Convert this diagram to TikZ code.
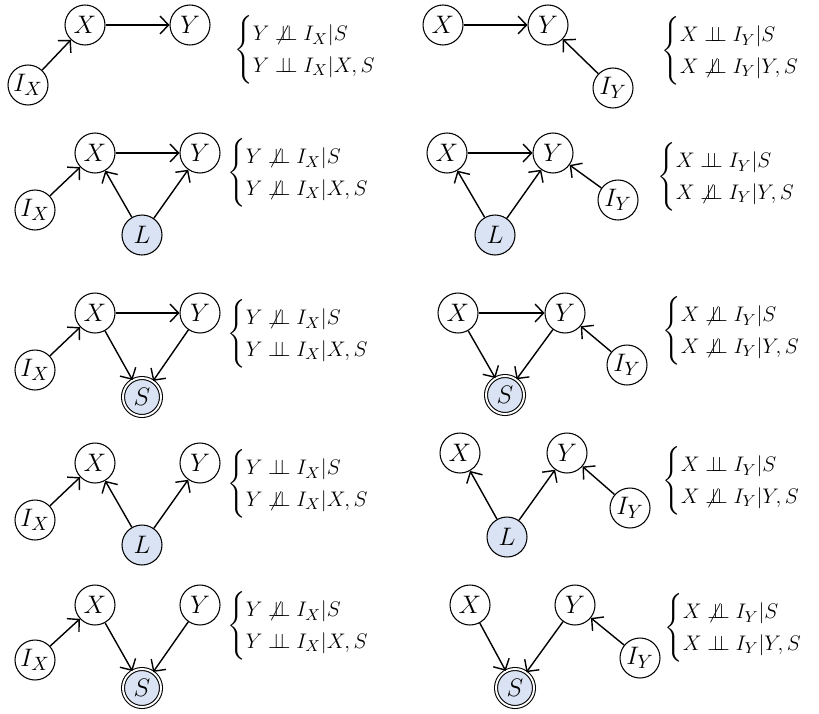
\documentclass[tikz,border=0pt]{standalone}
\usepackage{amsmath}
\usepackage{amssymb}
\usepackage{xcolor}
\usepackage{tikz}
\usetikzlibrary{arrows.meta, positioning}
\definecolor{latblue}{RGB}{218, 227, 243}
\newcommand{\indep}{\mathrel{\perp\!\!\!\perp}}
\newcommand{\nindep}{\mathrel{\not\perp\!\!\!\perp}}

\begin{document}
\begin{tikzpicture}[
        font=\fontsize{13}{15}\selectfont,
        var/.style={circle, draw, semithick, minimum size=0.8cm, inner sep=0pt, font=\fontsize{15}{16}\selectfont},
        lat/.style={var, fill=latblue},
        sel/.style={var, fill=latblue, double, double distance=1.1pt, minimum size=0.76cm},
        rel/.style={anchor=west, inner sep=0pt},
        arr/.style={-{Straight Barb[length=1.7mm, width=3.6mm]}, thick},
    ]
        \useasboundingbox (0,0) rectangle (16.38,-14.26);

        % Row 1: X -> Y only
        \node[var] (xL1) at (1.70,-0.50) {$X$};
        \node[var] (yL1) at (3.80,-0.50) {$Y$};
        \node[var] (iL1) at (0.56,-1.70) {$I_X$};
        \node[rel] (tL1) at (4.68,-1.00) {$\begin{cases} Y \nindep I_X | S \\ Y \indep I_X | X, S \end{cases}$};
        \draw[arr] (iL1) -- (xL1);
        \draw[arr] (xL1) -- (yL1);

        \node[var] (xR1) at (8.86,-0.50) {$X$};
        \node[var] (yR1) at (10.96,-0.50) {$Y$};
        \node[var] (iR1) at (12.26,-1.76) {$I_Y$};
        \node[rel] (tR1) at (13.22,-1.02) {$\begin{cases} X \indep I_Y | S \\ X \nindep I_Y | Y, S \end{cases}$};
        \draw[arr] (xR1) -- (yR1);
        \draw[arr] (iR1) -- (yR1);

        % Row 2: latent confounder L
        \node[var] (xL2) at (1.90,-3.06) {$X$};
        \node[var] (yL2) at (4.00,-3.06) {$Y$};
        \node[var] (iL2) at (0.70,-4.20) {$I_X$};
        \node[lat] (lL2) at (2.84,-4.70) {$L$};
        \node[rel] (tL2) at (4.54,-3.46) {$\begin{cases} Y \nindep I_X | S \\ Y \nindep I_X | X, S \end{cases}$};
        \draw[arr] (iL2) -- (xL2);
        \draw[arr] (xL2) -- (yL2);
        \draw[arr] (lL2) -- (xL2);
        \draw[arr] (lL2) -- (yL2);

        \node[var] (xR2) at (8.94,-3.06) {$X$};
        \node[var] (yR2) at (11.06,-3.06) {$Y$};
        \node[var] (iR2) at (12.36,-4.00) {$I_Y$};
        \node[lat] (lR2) at (9.90,-4.70) {$L$};
        \node[rel] (tR2) at (13.14,-3.54) {$\begin{cases} X \indep I_Y | S \\ X \nindep I_Y | Y, S \end{cases}$};
        \draw[arr] (xR2) -- (yR2);
        \draw[arr] (lR2) -- (xR2);
        \draw[arr] (lR2) -- (yR2);
        \draw[arr] (iR2) -- (yR2);

        % Row 3: selection node S
        \node[var] (xL3) at (1.90,-6.26) {$X$};
        \node[var] (yL3) at (4.00,-6.26) {$Y$};
        \node[var] (iL3) at (0.70,-7.40) {$I_X$};
        \node[sel] (sL3) at (2.84,-7.94) {$S$};
        \node[rel] (tL3) at (4.54,-6.68) {$\begin{cases} Y \nindep I_X | S \\ Y \indep I_X | X, S \end{cases}$};
        \draw[arr] (iL3) -- (xL3);
        \draw[arr] (xL3) -- (yL3);
        \draw[arr] (xL3) -- (sL3);
        \draw[arr] (yL3) -- (sL3);

        \node[var] (xR3) at (9.16,-6.26) {$X$};
        \node[var] (yR3) at (11.30,-6.26) {$Y$};
        \node[var] (iR3) at (12.54,-7.30) {$I_Y$};
        \node[sel] (sR3) at (10.10,-7.90) {$S$};
        \node[rel] (tR3) at (13.24,-6.62) {$\begin{cases} X \nindep I_Y | S \\ X \nindep I_Y | Y, S \end{cases}$};
        \draw[arr] (xR3) -- (yR3);
        \draw[arr] (xR3) -- (sR3);
        \draw[arr] (yR3) -- (sR3);
        \draw[arr] (iR3) -- (yR3);

        % Row 4: L without the X -> Y edge
        \node[var] (xL4) at (1.90,-9.26) {$X$};
        \node[var] (yL4) at (4.00,-9.26) {$Y$};
        \node[var] (iL4) at (0.70,-10.40) {$I_X$};
        \node[lat] (lL4) at (2.84,-10.90) {$L$};
        \node[rel] (tL4) at (4.54,-9.68) {$\begin{cases} Y \indep I_X | S \\ Y \nindep I_X | X, S \end{cases}$};
        \draw[arr] (iL4) -- (xL4);
        \draw[arr] (lL4) -- (xL4);
        \draw[arr] (lL4) -- (yL4);

        \node[var] (xR4) at (9.20,-9.06) {$X$};
        \node[var] (yR4) at (11.34,-9.06) {$Y$};
        \node[var] (iR4) at (12.60,-10.16) {$I_Y$};
        \node[lat] (lR4) at (10.14,-10.74) {$L$};
        \node[rel] (tR4) at (13.24,-9.62) {$\begin{cases} X \indep I_Y | S \\ X \nindep I_Y | Y, S \end{cases}$};
        \draw[arr] (lR4) -- (xR4);
        \draw[arr] (lR4) -- (yR4);
        \draw[arr] (iR4) -- (yR4);

        % Row 5: S without the X -> Y edge
        \node[var] (xL5) at (1.90,-12.10) {$X$};
        \node[var] (yL5) at (4.00,-12.10) {$Y$};
        \node[var] (iL5) at (0.70,-13.20) {$I_X$};
        \node[sel] (sL5) at (2.84,-13.76) {$S$};
        \node[rel] (tL5) at (4.54,-12.52) {$\begin{cases} Y \nindep I_X | S \\ Y \indep I_X | X, S \end{cases}$};
        \draw[arr] (iL5) -- (xL5);
        \draw[arr] (xL5) -- (sL5);
        \draw[arr] (yL5) -- (sL5);

        \node[var] (xR5) at (9.40,-12.10) {$X$};
        \node[var] (yR5) at (11.50,-12.10) {$Y$};
        \node[var] (iR5) at (12.80,-13.16) {$I_Y$};
        \node[sel] (sR5) at (10.30,-13.76) {$S$};
        \node[rel] (tR5) at (13.28,-12.56) {$\begin{cases} X \nindep I_Y | S \\ X \indep I_Y | Y, S \end{cases}$};
        \draw[arr] (xR5) -- (sR5);
        \draw[arr] (yR5) -- (sR5);
        \draw[arr] (iR5) -- (yR5);
    \end{tikzpicture}
\end{document}
